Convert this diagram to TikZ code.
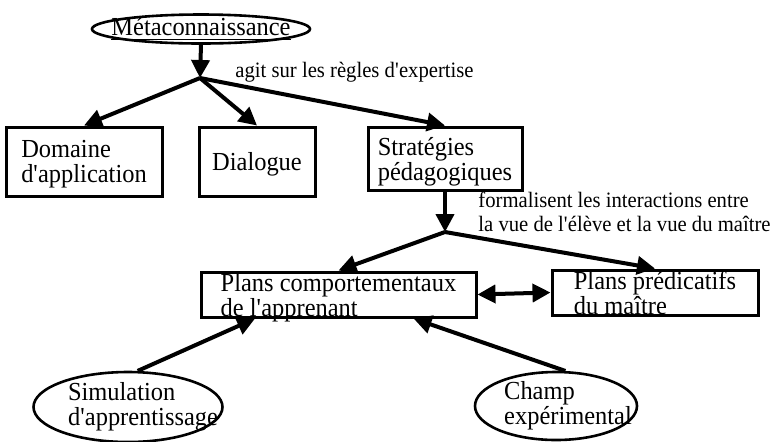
\documentclass[tikz,border=0pt]{standalone}
\usepackage{fontspec}
\setmainfont{Liberation Serif}[FakeStretch=0.94]
\usetikzlibrary{shapes.geometric, arrows.meta, positioning, calc}
\newcommand{\apos}{\textquotesingle}

\begin{document}
\begin{tikzpicture}[x=0.5pt, y=-0.5pt,
  boite/.style={draw, line width=1.5pt, align=left, inner sep=0pt, text depth=0pt, font=\fontsize{13}{12.5}\selectfont},
  bulle/.style={draw, ellipse, line width=1.3pt, inner sep=-30pt, align=left, font=\fontsize{13}{12.5}\selectfont},
  fleche/.style={line width=2pt, -{Triangle[length=9pt, width=9pt]}},
  fleches/.style={line width=2pt, {Triangle[length=9pt, width=9pt]}-{Triangle[length=9pt, width=9pt]}},
  note/.style={anchor=west, align=left, inner xsep=0pt, font=\fontsize{11}{12}\selectfont}]
  \useasboundingbox (0,0) rectangle (777,441);

  % Metaconnaissance
  \node[bulle, minimum width=109pt, minimum height=14.5pt] (meta) at (201,29) {\underline{Métaconnaissance}};
  \coordinate (j1) at (200,78);
  \node[note] (agit) at (235,72) {agit sur les règles d\apos expertise};

  % Premier niveau
  \node[boite, minimum width=78pt, minimum height=34.5pt] (dom) at (84,161.5) {Domaine\\d\apos application};
  \node[boite, minimum width=58pt, minimum height=34.5pt] (dial) at (257,161.5) {Dialogue};
  \node[boite, minimum width=77pt, minimum height=31.5pt] (strat) at (445,158.5) {Stratégies\\pédagogiques};

  \draw[fleche] (meta.south) -- (j1);
  \draw[fleche] (j1) -- (dom.north);
  \draw[fleche] (j1) -- (dial.north);
  \draw[fleche] (j1) -- (strat.north);

  % Plans
  \coordinate (j2) at (445,232);
  \node[note] (forma) at (478,212) {formalisent les interactions entre\\la vue de l\apos élève et la vue du maître};
  \node[boite, minimum width=137.5pt, minimum height=22.5pt] (comp) at (338.5,294.5) {Plans comportementaux\\de l\apos apprenant};
  \node[boite, minimum width=103pt, minimum height=22.5pt] (pred) at (655,292.5) {Plans prédicatifs\\du maître};

  \draw[fleche] (strat.south) -- (j2);
  \draw[fleche] (j2) -- (comp.north);
  \draw[fleche] (j2) -- (pred.north);
  \draw[fleches] (comp.east) -- (pred.west);

  % Sources
  \node[bulle, minimum width=94.5pt, minimum height=35pt] (sim) at (128,407) {\hspace*{15pt}Simulation\\\hspace*{15pt}d\apos apprentissage};
  \node[bulle, minimum width=81pt, minimum height=34pt] (champ) at (556,406) {\hspace*{12pt}Champ\\\hspace*{12pt}expérimental};

  \draw[fleche] (sim.75) -- ($(comp.south west)!0.2!(comp.south east)$);
  \draw[fleche] (champ.75) -- ($(comp.south west)!0.77!(comp.south east)$);
\end{tikzpicture}
\end{document}
